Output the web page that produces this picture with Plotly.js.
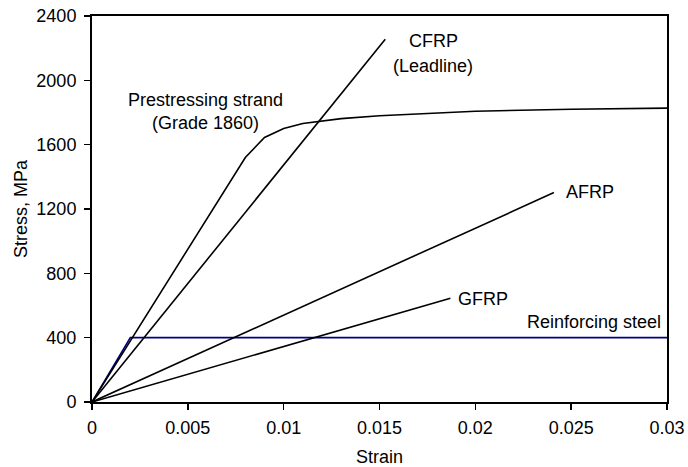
<!DOCTYPE html>
<html>
<head>
<meta charset="utf-8">
<script src="https://cdn.plot.ly/plotly-3.0.1.min.js"></script>
<style>html,body{margin:0;padding:0;background:#fff;}#chart{width:688px;height:467px;}</style>
</head>
<body>
<div id="chart"></div>
<script>
// Data
var strandStrain = [0, 0.008, 0.009, 0.010, 0.011, 0.012, 0.013, 0.015, 0.020, 0.025, 0.030];
var strandStress = [0, 1520, 1645, 1700, 1732, 1748, 1762, 1780, 1808, 1820, 1827];
var cfrpStrain = [0, 0.0153];
var cfrpStress = [0, 2255];
var afrpStrain = [0, 0.0241];
var afrpStress = [0, 1302];
var gfrpStrain = [0, 0.0187];
var gfrpStress = [0, 645];
var steelStrain = [0, 0.002, 0.030];
var steelStress = [0, 400, 400];
var xTickVals = [0, 0.005, 0.01, 0.015, 0.02, 0.025, 0.03];
var xTickText = ["0", "0.005", "0.01", "0.015", "0.02", "0.025", "0.03"];
var yTickVals = [0, 400, 800, 1200, 1600, 2000, 2400];
var yTickText = ["0", "400", "800", "1200", "1600", "2000", "2400"];
var labelText = ["Prestressing strand", "(Grade 1860)", "CFRP", "(Leadline)", "AFRP", "GFRP", "Reinforcing steel"];
var labelX = [0.0059, 0.0059, 0.0178, 0.0178, 0.0260, 0.0204, 0.0262];
var labelY = [1876, 1733, 2244, 2089, 1305, 643, 496];

var FONT = "'Liberation Sans', Arial, sans-serif";
var FS = 18;
var black = {color: "#000000", width: 1.6};
function tr(x, y, line) {
  return {x: x, y: y, type: "scatter", mode: "lines", line: line, hoverinfo: "skip", showlegend: false};
}
var data = [
  tr(steelStrain, steelStress, {color: "#000080", width: 1.6}),
  tr(strandStrain, strandStress, black),
  tr(cfrpStrain, cfrpStress, black),
  tr(afrpStrain, afrpStress, black),
  tr(gfrpStrain, gfrpStress, black)
];
var annotations = labelText.map(function (t, i) {
  return {x: labelX[i], y: labelY[i], xref: "x", yref: "y", text: t, showarrow: false,
          font: {family: FONT, size: FS, color: "#000"}, xanchor: "center", yanchor: "middle"};
});
var layout = {
  width: 688, height: 467,
  margin: {l: 92, r: 21, t: 16, b: 65},
  paper_bgcolor: "#fff", plot_bgcolor: "#fff",
  font: {family: FONT, size: FS, color: "#000"},
  showlegend: false,
  xaxis: {
    range: [0, 0.03], tickvals: xTickVals, ticktext: xTickText,
    ticks: "outside", ticklen: 6, tickwidth: 1.5, tickcolor: "#000",
    ticklabelstandoff: 2,
    showline: true, linecolor: "#000", linewidth: 2, mirror: true,
    showgrid: false, zeroline: false,
    tickfont: {family: FONT, size: FS},
    title: {text: "Strain", font: {family: FONT, size: FS}, standoff: 16}
  },
  yaxis: {
    range: [0, 2400], tickvals: yTickVals, ticktext: yTickText,
    ticks: "outside", ticklen: 6, tickwidth: 1.5, tickcolor: "#000",
    ticklabelstandoff: 4,
    showline: true, linecolor: "#000", linewidth: 2, mirror: true,
    showgrid: false, zeroline: false,
    tickfont: {family: FONT, size: FS},
    title: {text: "Stress, MPa", font: {family: FONT, size: FS}, standoff: 4}
  },
  annotations: annotations
};
Plotly.newPlot("chart", data, layout, {displayModeBar: false, staticPlot: true});
</script>
</body>
</html>
